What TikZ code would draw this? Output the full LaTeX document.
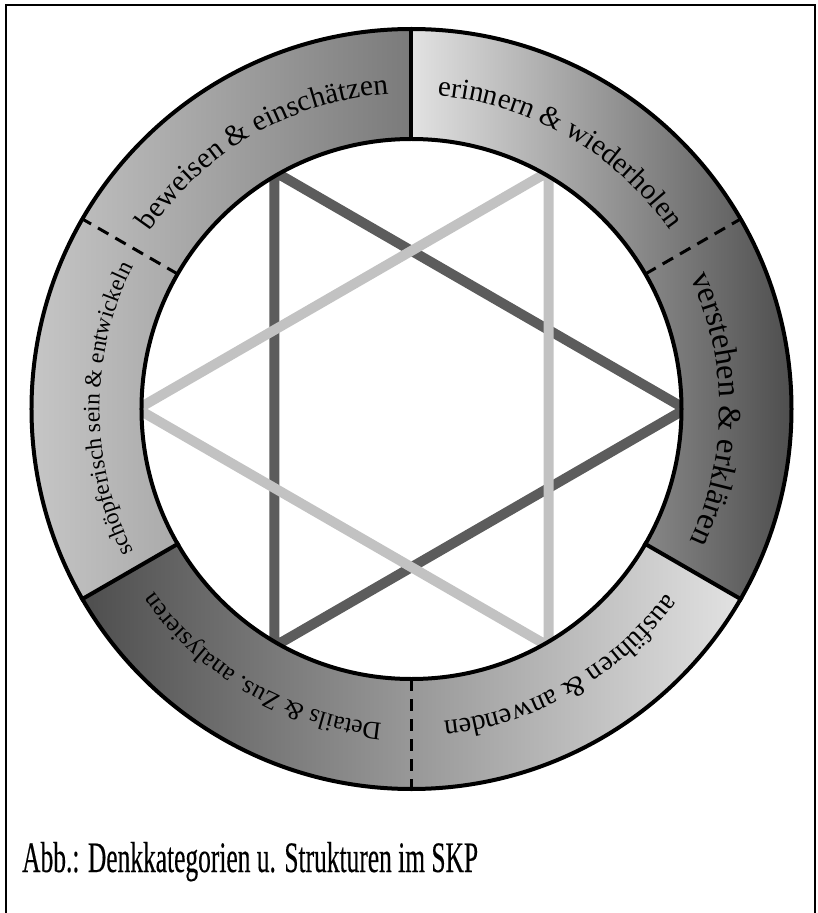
\documentclass[tikz,border=0pt]{standalone}
\usepackage{fontspec}
\setmainfont{Liberation Serif}
\newfontfamily\capfont[FakeStretch=0.585,FakeBold=0.3]{Liberation Serif}
\usetikzlibrary{decorations.text}
\definecolor{tridark}{RGB}{92,92,92}
\definecolor{trilight}{RGB}{194,194,194}
\definecolor{gLight}{RGB}{226,226,226}
\definecolor{gMid}{RGB}{168,168,168}
\definecolor{gDark}{RGB}{78,78,78}
\pgfdeclarehorizontalshading{leftpair}{100bp}{color(0bp)=(gLight); color(25bp)=(gLight!92!black); color(50bp)=(gLight!60!gDark); color(75bp)=(gLight!30!gDark); color(100bp)=(gDark)}
\newcommand\ringtext[4]{%
  \path[decorate, decoration={text along path, text align=center,
    text={|\fontsize{#3}{#3}\selectfont|#4}}]
    ({#1+45}:#2) arc[start angle={#1+45}, end angle={#1-45}, radius=#2];}
\newcommand\sector[2]{({#1}:380) arc[start angle={#1}, end angle={#2}, radius=380] -- ({#2}:270) arc[start angle={#2}, end angle={#1}, radius=270] -- cycle}
\begin{document}
\begin{tikzpicture}[x=1pt,y=1pt,
  ringline/.style={line width=4},
  dashline/.style={line width=3, dash pattern=on 12 off 8},
  trione/.style={line width=10, line join=miter}]
\useasboundingbox (-411.5,-504) rectangle (405.5,409);
% frame
\draw[line width=2] (-405.5,-520) -- (-405.5,404) -- (403.5,404) -- (403.5,-520);
% triangles
\draw[trione, tridark] (0:274) -- (120:274) -- (240:274) -- cycle;
\draw[trione, trilight] (60:274) -- (180:274) -- (300:274) -- cycle;
% shaded ring regions
\shade[left color=gLight, right color=gDark] \sector{90}{-30};
\shade[left color=gDark, right color=gLight] \sector{-30}{-150};
\shade[shading=leftpair] \sector{210}{90};
% outlines
\draw[ringline] (0,0) circle[radius=380];
\draw[ringline] (0,0) circle[radius=270];
\foreach \a in {90,-30,210} \draw[ringline] (\a:268) -- (\a:382);
\foreach \a in {30,-90,150} \draw[dashline] (\a:270) -- (\a:380);
% ring texts
\ringtext{60}{314}{29}{erinnern {\&} wiederholen}
\ringtext{0}{308}{32.5}{verstehen {\&} erklären}
\ringtext{-60}{314}{28.5}{ausführen {\&} anwenden}
\ringtext{-120}{316}{25.5}{Details {\&} Zus. analysieren}
\ringtext{180}{312}{23.5}{schöpferisch sein {\&} entwickeln}
\ringtext{120}{316}{29.5}{beweisen {\&} einschätzen}
% caption
\node[anchor=base west, inner sep=0, font=\capfont\fontsize{43.5}{43.5}\selectfont] (cap) at (-389.5,-463) {Abb.: Denkkategorien u. Strukturen im SKP};
\end{tikzpicture}
\end{document}
